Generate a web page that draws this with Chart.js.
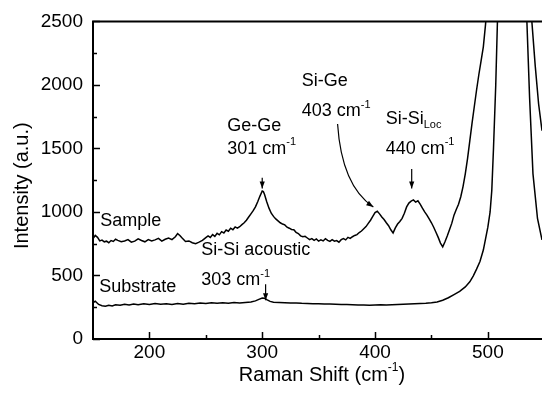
<!DOCTYPE html>
<html>
<head>
<meta charset="utf-8">
<script src="https://cdn.jsdelivr.net/npm/chart.js@4.4.0/dist/chart.umd.min.js"></script>
<style>
  html, body { margin: 0; padding: 0; background: #fff; }
  #wrap { width: 542px; height: 401px; }
</style>
</head>
<body>
<div id="wrap"><canvas id="raman" width="542" height="401"></canvas></div>
<script>
// Raman spectra (shift in cm-1, intensity in a.u.)
var sampleShift = [150, 152, 154, 156, 158, 160, 162, 164, 166, 168, 170, 172, 175, 178, 181, 184, 187, 190, 193, 196,
    199, 202, 205, 208, 211, 214, 217, 220, 223, 225, 227, 229, 232, 235, 238, 241, 244, 247, 250, 252,
    254, 256, 258, 260, 262, 264, 266, 268, 270, 272, 274, 276, 278, 280, 282, 284, 286, 288, 290, 292,
    294, 296, 298, 300, 301, 302, 304, 306, 308, 310, 312, 314, 316, 318, 320, 322, 324, 326, 328, 330,
    332, 334, 336, 338, 340, 342, 344, 346, 348, 350, 352, 354, 356, 358, 360, 362, 364, 366, 368, 370,
    372, 374, 376, 378, 380, 382, 384, 386, 388, 390, 392, 394, 396, 398, 400, 402, 404, 406, 408, 410,
    412, 414, 416, 418, 420, 422, 424, 426, 428, 430, 432, 434, 436, 438, 440, 442, 444, 446, 448, 450,
    452, 454, 456, 458, 460, 462, 464, 466, 468, 470, 472, 474, 476, 478, 480, 482, 484, 486, 488, 490,
    492, 494, 496, 498, 500, 505, 510, 515, 520, 525, 530, 535, 539, 542, 545, 548]
var sampleIntensity = [790, 815, 800, 772, 778, 765, 770, 758, 775, 768, 785, 776, 765, 772, 782, 762, 770, 788, 775, 765,
    782, 772, 780, 792, 770, 785, 795, 782, 805, 830, 815, 795, 768, 772, 758, 750, 762, 776, 798, 812,
    800, 822, 808, 832, 820, 845, 835, 858, 848, 872, 860, 882, 872, 884, 900, 915, 935, 960, 985, 1010,
    1040, 1080, 1125, 1165, 1160, 1140, 1080, 1030, 990, 965, 945, 930, 915, 905, 898, 880, 872, 862, 860, 840,
    830, 812, 805, 808, 795, 782, 790, 776, 788, 770, 780, 772, 790, 776, 768, 782, 770, 775, 762, 782,
    790, 780, 800, 792, 805, 815, 822, 838, 850, 868, 885, 910, 935, 965, 995, 1005, 985, 960, 940, 915,
    892, 860, 835, 875, 905, 925, 950, 990, 1040, 1070, 1085, 1095, 1078, 1088, 1062, 1030, 1000, 975, 945, 915,
    880, 840, 800, 755, 725, 765, 810, 860, 910, 975, 1020, 1060, 1120, 1200, 1300, 1420, 1560, 1700, 1830, 1960,
    2080, 2190, 2300, 2480, 2750, 3400, 4300, 6000, 8000, 6200, 4300, 3100, 2500, 2150, 1850, 1640]

var substrateShift = [150, 152, 155, 158, 161, 164, 167, 170, 174, 178, 182, 186, 190, 195, 200, 205, 210, 215, 220, 225,
    230, 235, 240, 245, 250, 255, 260, 265, 270, 275, 280, 285, 290, 294, 297, 300, 302, 304, 307, 310,
    315, 320, 325, 330, 335, 340, 345, 350, 355, 360, 365, 370, 375, 380, 385, 390, 395, 400, 405, 410,
    415, 420, 425, 430, 435, 440, 445, 450, 455, 460, 465, 470, 475, 480, 484, 487, 490, 493, 496, 498,
    500, 502, 503.5, 505, 507, 508.5, 512, 516, 520, 524, 528, 532, 534.6, 537, 540, 544, 548]
var substrateIntensity = [285, 298, 272, 262, 258, 266, 260, 270, 265, 274, 268, 276, 270, 277, 272, 279, 273, 277, 271, 279,
    274, 281, 277, 283, 279, 285, 281, 286, 282, 287, 284, 288, 292, 300, 312, 322, 320, 310, 296, 290,
    288, 286, 284, 283, 281, 280, 278, 278, 276, 275, 274, 272, 271, 270, 268, 268, 266, 268, 270, 268,
    270, 272, 274, 276, 278, 280, 282, 286, 292, 305, 325, 350, 375, 410, 450, 495, 550, 610, 700, 790,
    880, 1000, 1170, 1500, 2000, 2500, 4000, 7000, 9000, 7000, 4500, 3000, 2500, 1900, 1300, 950, 780]

var xTicks = [200, 300, 400, 500]
var xMinorTicks = [250, 350, 450]
var yTicks = [0, 500, 1000, 1500, 2000, 2500]
var yMinorTicks = [250, 750, 1250, 1750, 2250]

var FONT = '"Liberation Sans", Arial, Helvetica, sans-serif'

// labels and arrows, given in data units so they follow the scales
var notes = [
    {x: 156.5, y: 925, parts: [['Sample']]},
    {x: 155.6, y: 408, parts: [['Substrate']]},
    {x: 246, y: 697, parts: [['Si-Si acoustic']]},
    {x: 246, y: 462, parts: [['303 cm'], ['-1', 'sup']]},
    {x: 269, y: 1677, parts: [['Ge-Ge']]},
    {x: 269, y: 1497, parts: [['301 cm'], ['-1', 'sup']]},
    {x: 335, y: 2030, parts: [['Si-Ge']]},
    {x: 335, y: 1795, parts: [['403 cm'], ['-1', 'sup']]},
    {x: 409.4, y: 1732, parts: [['Si-Si'], ['Loc', 'sub']]},
    {x: 409.4, y: 1497, parts: [['440 cm'], ['-1', 'sup']]}
]
var arrows = [
    {from: [300, 1270], to: [300, 1185]},
    {from: [303, 431], to: [303, 306]},
    {from: [432.5, 1338], to: [432.5, 1185]},
    {from: [366.8, 1693], ctrl: [370.4, 1207], to: [398.5, 1040]}
]

function toPoints(xs, ys) {
    return xs.map(function (x, i) { return {x: x, y: ys[i]} })
}

function drawParts(ctx, x, y, parts, size) {
    parts.forEach(function (p) {
        var s = p[1] ? Math.round(size * 0.62) : size
        var dy = p[1] === 'sup' ? -size * 0.36 : (p[1] === 'sub' ? size * 0.32 : 0)
        ctx.font = s + 'px ' + FONT
        ctx.fillText(p[0], x, y + dy)
        x += ctx.measureText(p[0]).width
    })
    return x
}

function partsWidth(ctx, parts, size) {
    var w = 0
    parts.forEach(function (p) {
        var s = p[1] ? Math.round(size * 0.62) : size
        ctx.font = s + 'px ' + FONT
        w += ctx.measureText(p[0]).width
    })
    return w
}

function arrowHead(ctx, x, y, ang) {
    var len = 7, half = 2.6
    ctx.beginPath()
    ctx.moveTo(x, y)
    ctx.lineTo(x - len * Math.cos(ang) + half * Math.sin(ang), y - len * Math.sin(ang) - half * Math.cos(ang))
    ctx.lineTo(x - len * Math.cos(ang) - half * Math.sin(ang), y - len * Math.sin(ang) + half * Math.cos(ang))
    ctx.closePath()
    ctx.fill()
}

var decor = {
    id: 'decor',
    afterDatasetsDraw: function (chart) {
        var ctx = chart.ctx, a = chart.chartArea, xs = chart.scales.x, ys = chart.scales.y
        ctx.save()
        ctx.strokeStyle = '#000'
        ctx.fillStyle = '#000'

        // frame (no right edge in the picture)
        ctx.lineWidth = 2
        ctx.beginPath()
        ctx.moveTo(a.right + 2, a.top)
        ctx.lineTo(a.left, a.top)
        ctx.lineTo(a.left, a.bottom)
        ctx.lineTo(a.right + 2, a.bottom)
        ctx.stroke()

        // inward tick marks
        ctx.lineWidth = 1.5
        ctx.beginPath()
        xTicks.concat(xMinorTicks).forEach(function (v) {
            var px = Math.round(xs.getPixelForValue(v)) + 0.5
            var l = xTicks.indexOf(v) >= 0 ? 7 : 4
            ctx.moveTo(px, a.bottom)
            ctx.lineTo(px, a.bottom - l)
        })
        yTicks.concat(yMinorTicks).forEach(function (v) {
            var py = Math.round(ys.getPixelForValue(v)) + 0.5
            var l = yTicks.indexOf(v) >= 0 ? 7 : 4
            ctx.moveTo(a.left, py)
            ctx.lineTo(a.left + l, py)
        })
        ctx.stroke()

        // annotations
        ctx.textBaseline = 'middle'
        ctx.textAlign = 'left'
        notes.forEach(function (n) {
            drawParts(ctx, xs.getPixelForValue(n.x), ys.getPixelForValue(n.y), n.parts, 18)
        })

        ctx.lineWidth = 1.2
        arrows.forEach(function (r) {
            var x0 = xs.getPixelForValue(r.from[0]), y0 = ys.getPixelForValue(r.from[1])
            var x1 = xs.getPixelForValue(r.to[0]), y1 = ys.getPixelForValue(r.to[1])
            var ang
            ctx.beginPath()
            ctx.moveTo(x0, y0)
            if (r.ctrl) {
                var cx = xs.getPixelForValue(r.ctrl[0]), cy = ys.getPixelForValue(r.ctrl[1])
                ctx.quadraticCurveTo(cx, cy, x1, y1)
                ang = Math.atan2(y1 - cy, x1 - cx)
            } else {
                ctx.lineTo(x1, y1)
                ang = Math.atan2(y1 - y0, x1 - x0)
            }
            ctx.stroke()
            arrowHead(ctx, x1, y1, ang)
        })

        // axis titles
        var tParts = [['Raman Shift (cm'], ['-1', 'sup'], [')']]
        var tw = partsWidth(ctx, tParts, 20)
        drawParts(ctx, (a.left + a.right) / 2 + 4.5 - tw / 2, a.bottom + 36, tParts, 20)

        ctx.translate(a.left - 71, (a.top + a.bottom) / 2 + 5.5)
        ctx.rotate(-Math.PI / 2)
        ctx.textAlign = 'center'
        ctx.font = '20px ' + FONT
        ctx.fillText('Intensity (a.u.)', 0, 0)
        ctx.restore()
    }
}

var ctx = document.getElementById('raman').getContext('2d')
new Chart(ctx, {
    type: 'line',
    data: {
        datasets: [{
            label: 'Sample',
            data: toPoints(sampleShift, sampleIntensity),
            borderColor: '#000',
            borderWidth: 1.5,
            pointRadius: 0,
            tension: 0
        }, {
            label: 'Substrate',
            data: toPoints(substrateShift, substrateIntensity),
            borderColor: '#000',
            borderWidth: 1.5,
            pointRadius: 0,
            tension: 0
        }]
    },
    options: {
        responsive: false,
        animation: false,
        devicePixelRatio: 1,
        layout: { padding: { top: 20, left: 0, right: 0, bottom: 0 } },
        plugins: { legend: { display: false }, tooltip: { enabled: false } },
        scales: {
            x: {
                type: 'linear',
                min: 150,
                max: 548,
                grid: { display: false, drawTicks: false },
                border: { display: false },
                afterBuildTicks: function (s) { s.ticks = xTicks.map(function (v) { return {value: v} }) },
                afterFit: function (s) { s.height = 62 },
                ticks: {
                    color: '#000',
                    font: { family: FONT, size: 19 },
                    padding: 2,
                    maxRotation: 0,
                    autoSkip: false,
                    callback: function (v) { return String(v) }
                }
            },
            y: {
                min: 0,
                max: 2500,
                grid: { display: false, drawTicks: false },
                border: { display: false },
                afterBuildTicks: function (s) { s.ticks = yTicks.map(function (v) { return {value: v} }) },
                afterFit: function (s) { s.width = 93 },
                ticks: {
                    color: '#000',
                    font: { family: FONT, size: 19 },
                    padding: 10,
                    autoSkip: false,
                    callback: function (v) { return String(v) }
                }
            }
        }
    },
    plugins: [decor]
})
</script>
</body>
</html>
